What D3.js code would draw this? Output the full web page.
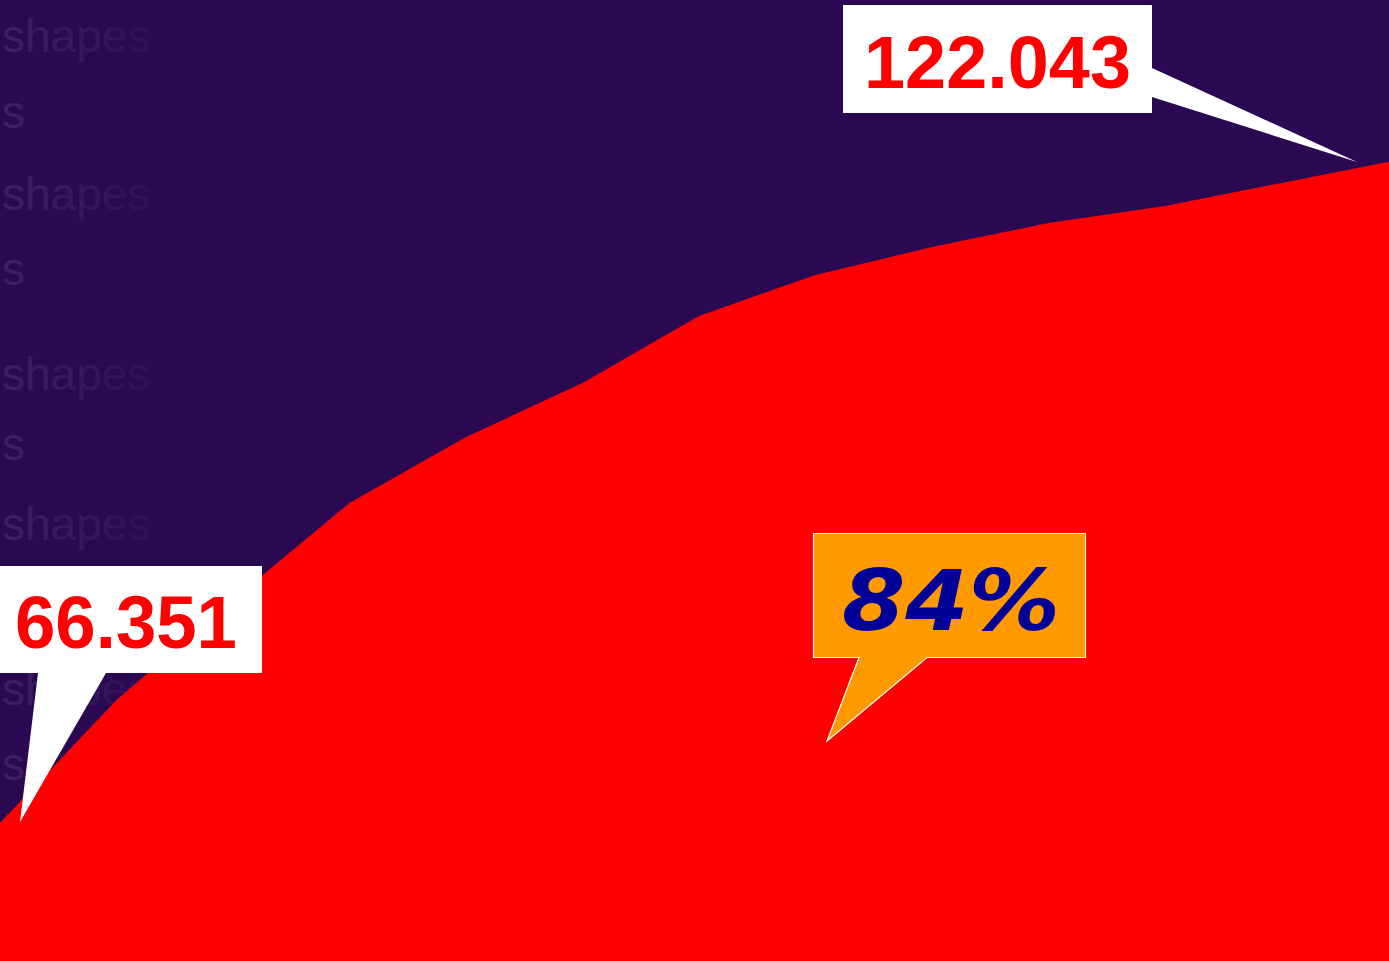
<!DOCTYPE html>
<html>
<head>
<meta charset="utf-8">
<script src="https://cdn.jsdelivr.net/npm/d3@7"></script>
<style>
  html, body { margin: 0; padding: 0; background: #2a0952; overflow: hidden; }
  svg { display: block; }
</style>
</head>
<body>
<svg id="chart" width="1389" height="961"></svg>
<script>
// ---- data ----
const periods = ["1","2","3","4","5","6","7","8","9","10","11","12","13"];
const values = [66.351, 76.68, 85.1, 93.23, 98.77, 103.31, 108.94, 112.38, 114.73, 116.75, 118.18, 120.11, 122.043];
const startLabel = "66.351";
const endLabel = "122.043";
const growthLabel = "84%";
const watermarkWords = ["shapes", "s", "shapes", "s", "shapes", "s", "shapes", "shapes", "s"];

// ---- setup ----
const W = 1389, H = 961;
const svg = d3.select("#chart");

const defs = svg.append("defs");
const grad = defs.append("linearGradient").attr("id", "wmfade")
  .attr("gradientUnits", "userSpaceOnUse")
  .attr("x1", 0).attr("x2", 180).attr("y1", 0).attr("y2", 0);
grad.append("stop").attr("offset", 0).attr("stop-color", "#ffffff").attr("stop-opacity", 0.09);
grad.append("stop").attr("offset", 1).attr("stop-color", "#ffffff").attr("stop-opacity", 0.015);

svg.append("rect").attr("width", W).attr("height", H).attr("fill", "#2a0952");

// faint watermark rows
const wmY = [52, 128, 210, 285, 390, 460, 540, 705, 780];
svg.append("g").selectAll("text").data(watermarkWords).join("text")
  .attr("x", 2).attr("y", (d, i) => wmY[i])
  .attr("font-family", "Liberation Sans, Arial, sans-serif")
  .attr("font-size", 46)
  .attr("fill", "url(#wmfade)")
  .text(d => d);

// scales
const x = d3.scalePoint().domain(periods).range([0, 1398]);
const y = d3.scaleLinear().domain([54.76, 135.48]).range([H, 0]);

const area = d3.area()
  .x((d, i) => x(periods[i]))
  .y0(H)
  .y1(d => y(d));

svg.append("path").datum(values)
  .attr("d", area)
  .attr("fill", "#ff0000");

// ---- callouts ----
const p0 = [x(periods[0]), y(values[0])];
const pN = [x(periods[periods.length - 1]), y(values[values.length - 1])];

// start callout (white)
const tip0 = [p0[0] + 20, p0[1] - 1];
svg.append("path")
  .attr("d", `M0,566 L262,566 L262,673 L106,673 L${tip0[0]},${tip0[1]} L38,673 L0,673 Z`)
  .attr("fill", "#ffffff");
svg.append("text")
  .attr("x", 15).attr("y", 648)
  .attr("font-family", "Liberation Sans, Arial, sans-serif")
  .attr("font-weight", "bold").attr("font-size", 75)
  .attr("textLength", 222).attr("lengthAdjust", "spacingAndGlyphs")
  .attr("fill", "#ff0000")
  .text(startLabel);

// end callout (white)
const tipN = [pN[0] - 41, pN[1] + 2];
svg.append("path")
  .attr("d", `M843,5 L1152,5 L1152,68 L${tipN[0]},${tipN[1]} L1152,97 L1152,113 L843,113 Z`)
  .attr("fill", "#ffffff");
svg.append("text")
  .attr("x", 864).attr("y", 88)
  .attr("font-family", "Liberation Sans, Arial, sans-serif")
  .attr("font-weight", "bold").attr("font-size", 75)
  .attr("textLength", 267).attr("lengthAdjust", "spacingAndGlyphs")
  .attr("fill", "#ff0000")
  .text(endLabel);

// growth callout (orange)
svg.append("path")
  .attr("d", "M813.5,533.5 L1085.5,533.5 L1085.5,657.5 L927,657.5 L827,741 L859,657.5 L813.5,657.5 Z")
  .attr("fill", "#ff9900")
  .attr("stroke", "#ffffff").attr("stroke-width", 1.2);
svg.append("text")
  .attr("x", 951).attr("y", 630)
  .attr("text-anchor", "middle")
  .attr("font-family", "DejaVu Sans, Verdana, sans-serif")
  .attr("font-weight", "bold").attr("font-style", "italic").attr("font-size", 84)
  .attr("textLength", 218).attr("lengthAdjust", "spacingAndGlyphs")
  .attr("fill", "#000099")
  .text(growthLabel);
</script>
</body>
</html>
